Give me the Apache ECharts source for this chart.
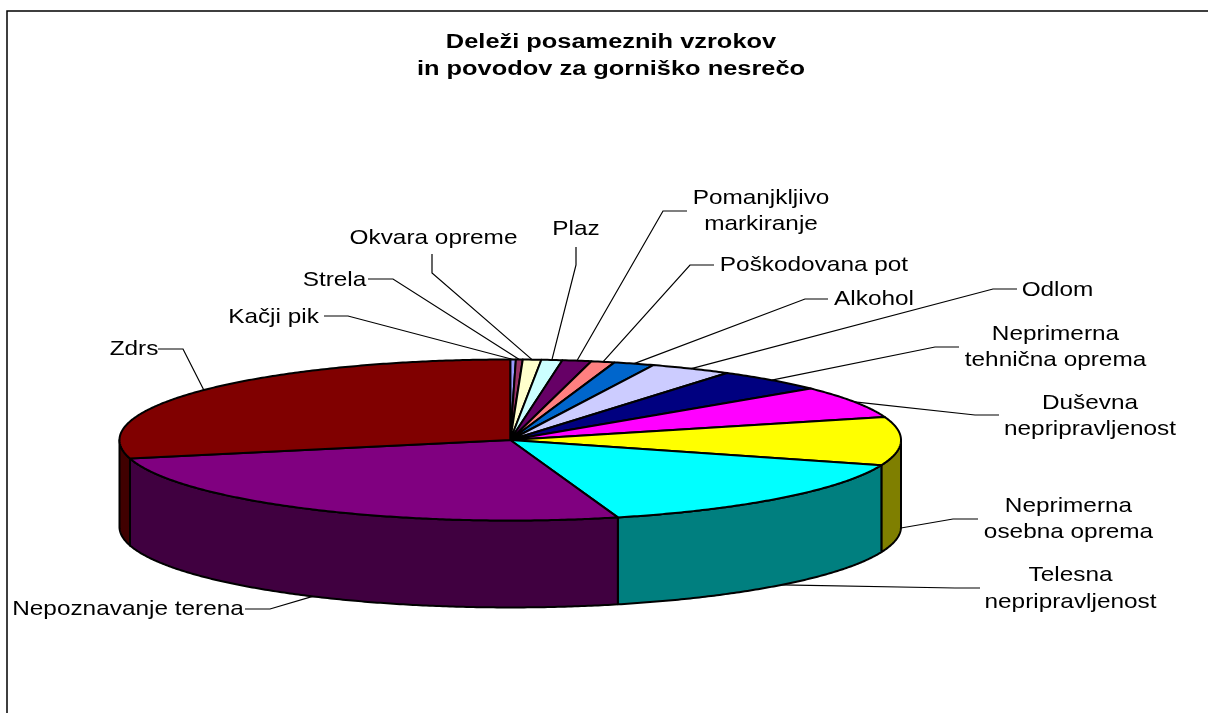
<!DOCTYPE html>
<html>
<head>
<meta charset="utf-8">
<style>html,body{margin:0;padding:0;background:#fff}#c{width:1208px;height:713px}</style>
<script src="https://cdn.jsdelivr.net/npm/echarts@6/dist/echarts.min.js"></script>
</head>
<body>
<div id="c"></div>
<script>
// ---- data (percent shares, clockwise from the top) ----
const categories = ['Kačji pik','Strela','Okvara opreme','Plaz','Pomanjkljivo\nmarkiranje','Poškodovana pot','Alkohol','Odlom','Neprimerna\ntehnična oprema','Duševna\nnepripravljenost','Neprimerna\nosebna oprema','Telesna\nnepripravljenost','Nepoznavanje terena','Zdrs'];
const shares = [0.23,0.28,0.76,0.86,1.2,0.97,1.67,3.4,4.6,6.4,9.7,15.5,25.75,28.7];
const titleLines = ['Deleži posameznih vzrokov','in povodov za gorniško nesrečo'];

// ---- styles and layout (separate from the data) ----
const colors = ['#9999FF','#993366','#FFFFCC','#CCFFFF','#660066','#FF8080','#0066CC','#CCCCFF','#000080','#FF00FF','#FFFF00','#00FFFF','#800080','#800000'];
const labelCenters = [[273.5,317.5],[334.5,280.5],[433.5,238.5],[576,229.5],[761,211],[814,265.5],[874,299.5],[1057.5,290.5],[1055.5,347],[1090,416],[1068.5,519],[1070.5,588.5],[128,609.5],[134,349.5]];
const leaderStarts = [[324,316],[368,279],[432,254],[576,247],[687,211],[714,265],[828,299],[1017,289],[959,347],[999,415],[978,519],[980,588],[245,609],[158,349]];
const leaderElbows = [[348,316],[393,279],[432,273],[576,265],[663,211],[690,265],[805,299],[993,289],[935,347],[975,415],[953,519],[955,588],[270,609],[183,349]];
const DEPTH = 1.08;            // wall height, in axis units
const FONT = '21px "Liberation Sans", Arial, sans-serif';
const TEXT_STRETCH = 1.16;
const TITLE_FONT = 'bold 20px "Liberation Sans", Arial, sans-serif';
const TITLE_STRETCH = 1.27;

const total = shares.reduce((a, b) => a + b, 0);
const ends = [];
shares.reduce((acc, v, i) => (ends[i] = acc + v, ends[i]), 0);
const rad = d => d * Math.PI / 180;
const toAngle = v => v / total * 360;
const sliceRange = i => [toAngle(i ? ends[i - 1] : 0), toAngle(ends[i])];
const onRim = (api, deg, drop) => api.coord([Math.sin(rad(deg)), Math.cos(rad(deg)) - (drop || 0)]);
function arc(api, a, b, drop) {
  const pts = [], n = Math.max(2, Math.ceil((b - a) / 0.5));
  for (let k = 0; k <= n; k++) pts.push(onRim(api, a + (b - a) * k / n, drop));
  return pts;
}
const shade = c => {            // wall colour: half brightness of the slice
  const n = parseInt(c.slice(1), 16);
  const h = x => ('0' + (x >> 1 & 0xff).toString(16)).slice(-2);
  return '#' + h(n >> 16) + h(n >> 8 & 255) + h(n & 255);
};
const rows = shares.map((v, i) => [i, v]);

function renderWall(params, api) {
  const i = api.value(0), [a, b] = sliceRange(i);
  const s = Math.max(a, 90), e = Math.min(b, 270);
  if (e <= s) return null;
  const pts = arc(api, s, e, 0).concat(arc(api, s, e, DEPTH).reverse());
  return {type:'polygon', shape:{points:pts},
    style:{fill:shade(colors[i]), stroke:'#000', lineWidth:2, lineJoin:'round'}};
}
function renderLid(params, api) {
  const i = api.value(0), [a, b] = sliceRange(i);
  const pts = [api.coord([0, 0])].concat(arc(api, a, b, 0));
  return {type:'polygon', shape:{points:pts},
    style:{fill:colors[i], stroke:'#000', lineWidth:2, lineJoin:'round'}};
}
function renderLabel(params, api) {
  const i = api.value(0), [a, b] = sliceRange(i), mid = (a + b) / 2;
  const front = mid > 90 && mid < 270;
  const anchor = onRim(api, mid, front ? DEPTH : 0);
  return {type:'group', children:[
    {type:'polyline', shape:{points:[leaderStarts[i], leaderElbows[i], anchor]},
      style:{fill:null, stroke:'#000', lineWidth:1.2}},
    {type:'text', x:labelCenters[i][0], y:labelCenters[i][1], scaleX:TEXT_STRETCH,
      style:{text:categories[i], font:FONT, fill:'#000', textAlign:'center', textVerticalAlign:'middle', lineHeight:26.5}}
  ]};
}

const chart = echarts.init(document.getElementById('c'), null, {renderer:'canvas'});
chart.setOption({
  animation:false,
  backgroundColor:'#fff',
  grid:{left:119.5, top:359.5, width:781.5, height:161, containLabel:false},
  xAxis:{type:'value', min:-1, max:1, show:false},
  yAxis:{type:'value', min:-1, max:1, show:false},
  graphic:[
    {type:'polyline', silent:true, shape:{points:[[7,713],[7,11],[1208,11]]}, style:{fill:null, stroke:'#000', lineWidth:1.5}},
    {type:'text', silent:true, x:611, y:42, scaleX:TITLE_STRETCH, style:{text:titleLines[0], font:TITLE_FONT, fill:'#000', textAlign:'center', textVerticalAlign:'middle'}},
    {type:'text', silent:true, x:611, y:69, scaleX:TITLE_STRETCH, style:{text:titleLines[1], font:TITLE_FONT, fill:'#000', textAlign:'center', textVerticalAlign:'middle'}}
  ],
  series:[
    {type:'custom', coordinateSystem:'cartesian2d', renderItem:renderWall, data:rows, silent:true, clip:false, encode:{x:-1,y:-1}, z:2},
    {type:'custom', coordinateSystem:'cartesian2d', renderItem:renderLid, data:rows, silent:true, clip:false, encode:{x:-1,y:-1}, z:3},
    {type:'custom', coordinateSystem:'cartesian2d', renderItem:renderLabel, data:rows, silent:true, clip:false, encode:{x:-1,y:-1}, z:4}
  ]
});
</script>
</body>
</html>
